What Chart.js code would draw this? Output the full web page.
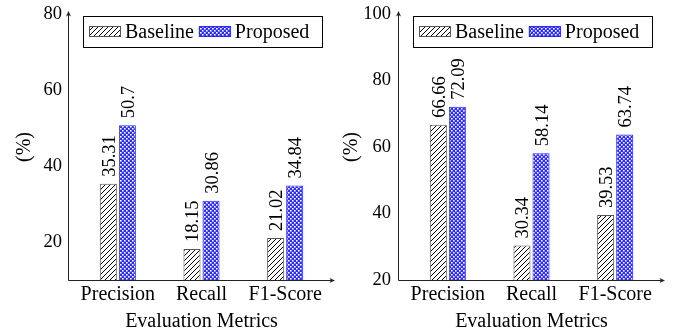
<!DOCTYPE html>
<html><head><meta charset="utf-8">
<script src="https://cdn.jsdelivr.net/npm/chart.js@4.4.1/dist/chart.umd.min.js"></script>
<style>
html,body{margin:0;padding:0;background:#fff;}
#wrap{position:relative;width:674px;height:332px;overflow:hidden;}
.c{position:absolute;top:0;width:337px;height:332px;}
</style></head><body>
<div id="wrap">
<div class="c" style="left:0"><canvas id="c1"></canvas></div>
<div class="c" style="left:337px"><canvas id="c2"></canvas></div>
</div>
<script>
// ---- data ----
const categories = ['Precision', 'Recall', 'F1-Score'];
const seriesNames = ['Baseline', 'Proposed'];
const leftBaseline = [35.31, 18.15, 21.02];
const leftProposed = [50.7, 30.86, 34.84];
const rightBaseline = [66.66, 30.34, 39.53];
const rightProposed = [72.09, 58.14, 63.74];
const leftTicks = [20, 40, 60, 80];
const rightTicks = [20, 40, 60, 80, 100];
const leftRange = [10, 80];
const rightRange = [20, 100];
const xTitle = 'Evaluation Metrics';
const yTitle = '(%)';

// ---- styling ----
const SERIF = "'Liberation Serif', 'Times New Roman', serif";
Chart.defaults.font.family = SERIF;
Chart.defaults.color = '#000';

function hatchPattern() {
  const c = document.createElement('canvas');
  c.width = 5; c.height = 5;
  const g = c.getContext('2d');
  g.fillStyle = '#fff'; g.fillRect(0, 0, 5, 5);
  g.strokeStyle = '#000'; g.lineWidth = 1;
  g.beginPath();
  g.moveTo(-1, 6); g.lineTo(6, -1);
  g.moveTo(-1, 1); g.lineTo(1, -1);
  g.moveTo(4, 6); g.lineTo(6, 4);
  g.stroke();
  return g.createPattern(c, 'repeat');
}
function dotsPattern() {
  const c = document.createElement('canvas');
  c.width = 4; c.height = 4;
  const g = c.getContext('2d');
  g.fillStyle = 'rgb(45,45,255)'; g.fillRect(0, 0, 4, 4);
  g.fillStyle = '#fff';
  g.fillRect(0, 0, 1.6, 1.6);
  g.fillRect(2, 2, 1.6, 1.6);
  return g.createPattern(c, 'repeat');
}
const HATCH = hatchPattern();
const DOTS = dotsPattern();
const BASE_BORDER = '#555';
const PROP_BORDER = 'rgb(40,40,255)';

const decor = {
  id: 'decor',
  afterDatasetsDraw(chart) {
    const ctx = chart.ctx;
    ctx.save();
    ctx.fillStyle = '#000';
    ctx.font = '18.5px ' + SERIF;
    chart.data.datasets.forEach((ds, i) => {
      const meta = chart.getDatasetMeta(i);
      meta.data.forEach((bar, j) => {
        ctx.save();
        ctx.translate(bar.x + 6.5, bar.y - 7);
        ctx.rotate(-Math.PI / 2);
        ctx.textAlign = 'left';
        ctx.textBaseline = 'alphabetic';
        ctx.fillText(String(ds.data[j]), 0, 0);
        ctx.restore();
      });
    });
    ctx.restore();
  },
  afterDraw(chart) {
    const ctx = chart.ctx;
    const a = chart.chartArea;
    const ax = a.left - 8 + 0.5;
    const ay = a.bottom + 0.5;
    ctx.save();
    ctx.strokeStyle = '#222'; ctx.fillStyle = '#222'; ctx.lineWidth = 1;
    // y axis with arrow
    ctx.beginPath(); ctx.moveTo(ax, ay); ctx.lineTo(ax, a.top - 1); ctx.stroke();
    ctx.beginPath(); ctx.moveTo(ax, a.top - 3); ctx.lineTo(ax - 2.5, a.top + 2.5); ctx.lineTo(ax, a.top + 1); ctx.lineTo(ax + 2.5, a.top + 2.5); ctx.closePath(); ctx.fill();
    // x axis with arrow
    const xe = a.right + 7;
    ctx.beginPath(); ctx.moveTo(ax, ay); ctx.lineTo(xe - 2, ay); ctx.stroke();
    ctx.beginPath(); ctx.moveTo(xe + 1, ay); ctx.lineTo(xe - 4.5, ay - 2.5); ctx.lineTo(xe - 3, ay); ctx.lineTo(xe - 4.5, ay + 2.5); ctx.closePath(); ctx.fill();
    // legend
    const bx = Math.round(ax) + 14, by = 16, bw = 240, bh = 32;
    ctx.fillStyle = '#fff'; ctx.fillRect(bx, by, bw, bh);
    ctx.strokeStyle = '#000'; ctx.strokeRect(bx + 0.5, by + 0.5, bw - 1, bh - 1);
    ctx.font = '20px ' + SERIF;
    ctx.textBaseline = 'alphabetic'; ctx.textAlign = 'left';
    let x = bx + 6;
    chart.data.datasets.forEach(ds => {
      ctx.fillStyle = ds.backgroundColor;
      ctx.fillRect(x, by + 10, 32, 11);
      ctx.strokeStyle = ds.borderColor;
      ctx.strokeRect(x + 0.5, by + 10.5, 31, 10);
      x += 36;
      ctx.fillStyle = '#000';
      ctx.fillText(ds.label, x, by + 22);
      x += ctx.measureText(ds.label).width + 5;
    });
    ctx.restore();
  }
};

function makeChart(id, base, prop, ticks, range, axisX, rightPad, titlePad, tickPad) {
  const areaLeft = axisX + 8;
  return new Chart(document.getElementById(id), {
    type: 'bar',
    data: {
      labels: categories,
      datasets: [
        { label: seriesNames[0], data: base, backgroundColor: HATCH, borderColor: BASE_BORDER, borderWidth: 1, borderSkipped: false },
        { label: seriesNames[1], data: prop, backgroundColor: DOTS, borderColor: PROP_BORDER, borderWidth: 1, borderSkipped: false }
      ]
    },
    options: {
      responsive: true, maintainAspectRatio: false, animation: false,
      devicePixelRatio: 1,
      categoryPercentage: 0.455, barPercentage: 0.895,
      layout: { padding: { top: 14, right: rightPad, bottom: 0, left: 0 } },
      plugins: { legend: { display: false }, tooltip: { enabled: false } },
      scales: {
        x: {
          type: 'category', offset: true,
          grid: { display: false, drawTicks: false }, border: { display: false },
          ticks: { font: { size: 20 }, padding: 3, color: '#000' },
          title: { display: true, text: xTitle, font: { size: 20 }, padding: { top: 0, bottom: -2 }, color: '#000' },
          afterFit: s => { s.height = 52; s.paddingLeft = 0; s.paddingRight = 0; }
        },
        y: {
          min: range[0], max: range[1],
          grid: { display: false, drawTicks: false }, border: { display: false },
          ticks: { font: { size: 18.5 }, padding: tickPad, color: '#000' },
          afterBuildTicks: s => { s.ticks = ticks.map(v => ({ value: v })); },
          title: { display: true, text: yTitle, font: { size: 20 }, padding: { top: titlePad, bottom: 0 }, color: '#000' },
          afterFit: s => { s.width = areaLeft; s.paddingTop = 0; s.paddingBottom = 0; }
        }
      }
    },
    plugins: [decor]
  });
}

makeChart('c1', leftBaseline, leftProposed, leftTicks, leftRange, 68, 10, 13, 14);
makeChart('c2', rightBaseline, rightProposed, rightTicks, rightRange, 61, 17, 3, 15);
</script>
</body></html>
